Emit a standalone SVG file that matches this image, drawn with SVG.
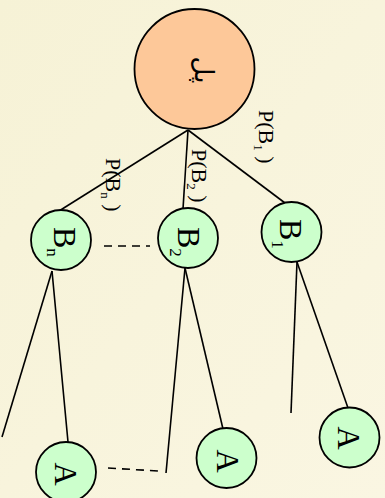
<svg xmlns="http://www.w3.org/2000/svg" width="385" height="498" viewBox="0 0 385 498">
<defs>
<linearGradient id="bg" x1="0" y1="0" x2="1" y2="1">
<stop offset="0" stop-color="#f6f2d6"/>
<stop offset="1" stop-color="#faf6e2"/>
</linearGradient>
</defs>
<style>
.line{stroke:#000;stroke-width:1.6;fill:none}
.dash{stroke:#000;stroke-width:1.6;fill:none;stroke-dasharray:8 6}
.root{fill:#fdc899;stroke:#000;stroke-width:1.8}
.node{fill:#ccffcc;stroke:#000;stroke-width:1.8}
.lbl{font-family:"Liberation Serif","Times New Roman",serif;font-size:22px;fill:#000}
.big{font-family:"Liberation Serif","Times New Roman",serif;font-size:32px;fill:#000}
.ar{font-family:"DejaVu Sans",sans-serif;font-size:26px;fill:#000}
</style>
<rect width="385" height="498" fill="url(#bg)"/>
<g id="connectors">
<line class="line" x1="188" y1="130" x2="59" y2="211"/>
<line class="line" x1="188" y1="130" x2="183" y2="209"/>
<line class="line" x1="188" y1="130" x2="285" y2="203"/>
<line class="line" x1="52" y1="271" x2="2" y2="437"/>
<line class="line" x1="52" y1="271" x2="68" y2="442"/>
<line class="line" x1="185" y1="268" x2="166" y2="473"/>
<line class="line" x1="185" y1="268" x2="223" y2="429"/>
<line class="line" x1="297" y1="262" x2="291" y2="413"/>
<line class="line" x1="297" y1="262" x2="348" y2="408"/>
<line class="dash" x1="104" y1="246" x2="150" y2="246"/>
<line class="dash" x1="108" y1="468" x2="158" y2="471"/>
<text class="lbl" transform="translate(259,110) rotate(90)">P(B<tspan font-size="13" dy="5">1</tspan><tspan dy="-5"> )</tspan></text>
<text class="lbl" transform="translate(192,149) rotate(90)">P(B<tspan font-size="13" dy="5">2</tspan><tspan dy="-5"> )</tspan></text>
<text class="lbl" transform="translate(106,158) rotate(90)">P(B<tspan font-size="13" dy="5">n</tspan><tspan dy="-5"> )</tspan></text>
</g>
<g id="root">
<circle class="root" cx="194.5" cy="69" r="60"/>
<text class="ar" text-anchor="middle" transform="translate(195,70) rotate(90)">پل</text>
</g>
<g id="Bn">
<circle class="node" cx="61" cy="240" r="30"/>
<text class="big" transform="translate(54,227) rotate(90)">B<tspan font-size="17" dy="7">n</tspan></text>
</g>
<g id="B2">
<circle class="node" cx="188" cy="238" r="30"/>
<text class="big" transform="translate(178,227) rotate(90)">B<tspan font-size="17" dy="8">2</tspan></text>
</g>
<g id="B1">
<circle class="node" cx="291.5" cy="232" r="30"/>
<text class="big" transform="translate(280,219) rotate(90)">B<tspan font-size="17" dy="8">1</tspan></text>
</g>
<g id="A1">
<circle class="node" cx="66" cy="472" r="30"/>
<text class="big" text-anchor="middle" transform="translate(55,474) rotate(90)">A</text>
</g>
<g id="A2">
<circle class="node" cx="226.5" cy="458" r="30"/>
<text class="big" text-anchor="middle" transform="translate(217,461) rotate(90)">A</text>
</g>
<g id="A3">
<circle class="node" cx="349.5" cy="437.5" r="30"/>
<text class="big" text-anchor="middle" transform="translate(338,438) rotate(90)">A</text>
</g>
</svg>
